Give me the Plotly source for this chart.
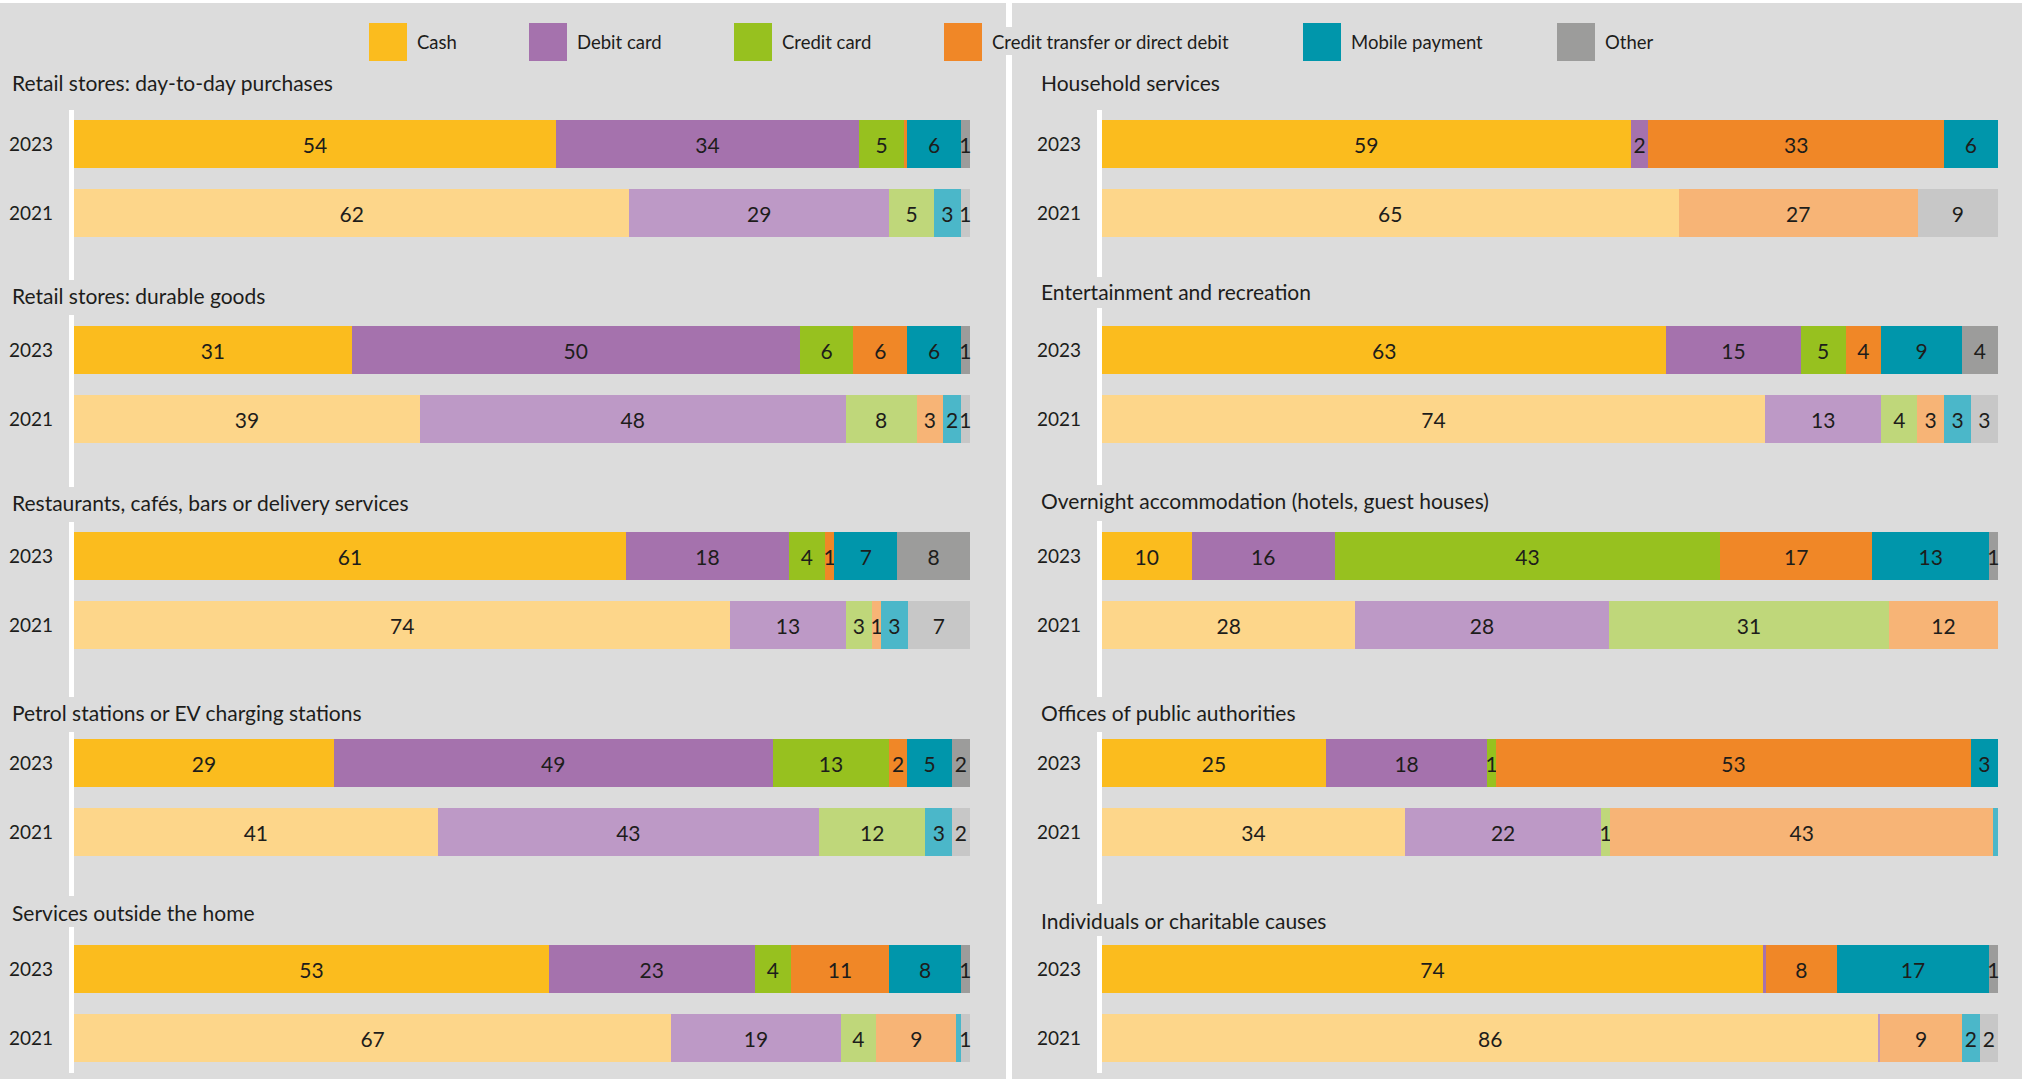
import plotly.graph_objects as go

W, H = 2028, 1079
FONT = "Lato"
TXT = "#1d1d1b"

titles = [
    "Retail stores: day-to-day purchases",
    "Retail stores: durable goods",
    "Restaurants, cafés, bars or delivery services",
    "Petrol stations or EV charging stations",
    "Services outside the home",
    "Household services",
    "Entertainment and recreation",
    "Overnight accommodation (hotels, guest houses)",
    "Offices of public authorities",
    "Individuals or charitable causes",
]
years = ["2023", "2021"]
categories = ["Cash", "Debit card", "Credit card",
              "Credit transfer or direct debit", "Mobile payment", "Other"]

cash_2023 = [54, 31, 61, 29, 53, 59, 63, 10, 25, 74]
cash_2021 = [62, 39, 74, 41, 67, 65, 74, 28, 34, 86]
debit_2023 = [34, 50, 18, 49, 23, 2, 15, 16, 18, 0.3]
debit_2021 = [29, 48, 13, 43, 19, 0, 13, 28, 22, 0.2]
credit_2023 = [5, 6, 4, 13, 4, 0, 5, 43, 1, 0]
credit_2021 = [5, 8, 3, 12, 4, 0, 4, 31, 1, 0]
transfer_2023 = [0.4, 6, 1, 2, 11, 33, 4, 17, 53, 8]
transfer_2021 = [0, 3, 1, 0, 9, 27, 3, 12, 43, 9]
mobile_2023 = [6, 6, 7, 5, 8, 6, 9, 13, 3, 17]
mobile_2021 = [3, 2, 3, 3, 0.5, 0, 3, 0, 0.5, 2]
other_2023 = [1, 1, 8, 2, 1, 0, 4, 1, 0, 1]
other_2021 = [1, 1, 7, 2, 1, 9, 3, 0, 0, 2]

series_2023 = [cash_2023, debit_2023, credit_2023, transfer_2023, mobile_2023, other_2023]
series_2021 = [cash_2021, debit_2021, credit_2021, transfer_2021, mobile_2021, other_2021]

colors_2023 = ["#FBBC1E", "#A572AD", "#97C11F", "#F08727", "#0096AB", "#9C9C9B"]
colors_2021 = ["#FDD68A", "#BD99C6", "#BFD77A", "#F7B476", "#4BB7C9", "#C7C7C7"]


def fx(p):
    return p / W


def fy(p):
    return 1 - p / H


def lab(v):
    return str(int(round(v))) if v >= 0.75 else ""


# pixel layout
bar_tops = [120, 326, 532, 739, 945]
line_left = [(110, 280), (315, 487), (522, 697), (732, 896), (927, 1073)]
line_right = [(110, 277), (308, 485), (521, 697), (732, 904), (936, 1073)]
title_y_left = [83, 295, 502, 712, 912]
title_y_right = [83, 291, 500, 712, 920]
BAR_H, PITCH = 48, 69
bars_x = [(74, 970), (1102, 1998)]
axis_line_x = [(69, 74), (1097, 1102)]
title_x = [10, 1039]

fig = go.Figure()
shapes = []
annotations = []
layout_axes = {}

for i in range(10):
    side = 0 if i < 5 else 1
    row = i % 5
    s = "" if i == 0 else str(i + 1)
    T = bar_tops[row]
    top, bot = (line_left if side == 0 else line_right)[row]
    c23 = T + BAR_H / 2

    def val(ypx):
        return 1 - (ypx - c23) / PITCH

    for k in range(6):
        v23 = series_2023[k][i]
        v21 = series_2021[k][i]
        fig.add_trace(go.Bar(
            x=[v23, v21], y=years, orientation="h",
            name=categories[k], showlegend=False,
            marker=dict(color=[colors_2023[k], colors_2021[k]], line=dict(width=0)),
            text=[lab(v23), lab(v21)],
            textposition="inside", insidetextanchor="middle", textangle=0,
            textfont=dict(family=FONT, size=21, color=TXT),
            insidetextfont=dict(family=FONT, size=21, color=TXT),
            cliponaxis=False,
            xaxis="x" + s, yaxis="y" + s,
            hovertemplate=categories[k] + " %{y}: %{text}<extra></extra>",
        ))
    x0, x1 = bars_x[side]
    layout_axes["xaxis" + s] = dict(
        domain=[fx(x0), fx(x1)], range=[0, 100.02], visible=False,
        anchor="y" + s, fixedrange=True)
    layout_axes["yaxis" + s] = dict(
        domain=[fy(bot), fy(top)], range=[val(bot), val(top)],
        type="category", categoryorder="array", categoryarray=["2021", "2023"],
        anchor="x" + s, showgrid=False, zeroline=False, showline=False,
        ticks="", ticklabelstandoff=20,
        tickfont=dict(family=FONT, size=19, color=TXT), fixedrange=True)
    lx0, lx1 = axis_line_x[side]
    shapes.append(dict(type="rect", xref="paper", yref="paper",
                       x0=fx(lx0), x1=fx(lx1), y0=fy(bot), y1=fy(top),
                       fillcolor="white", line=dict(width=0)))
    annotations.append(dict(
        text=titles[i], xref="paper", yref="paper",
        x=fx(title_x[side]), y=fy((title_y_left if side == 0 else title_y_right)[row]),
        xanchor="left", yanchor="middle", showarrow=False,
        font=dict(family=FONT, size=21, color=TXT)))

# frame: top border, right border, central divider (interrupted by legend)
for (x0, x1, y0, y1) in [(0, W, 0, 3), (2022, W, 0, H), (1006, 1012, 0, 27), (1006, 1012, 55, H)]:
    shapes.append(dict(type="rect", xref="paper", yref="paper",
                       x0=fx(x0), x1=fx(x1), y0=fy(y1), y1=fy(y0),
                       fillcolor="white", line=dict(width=0), layer="below"))

# legend
legend_x = [369, 529, 734, 944, 1303, 1557]
for k in range(6):
    x0 = legend_x[k]
    shapes.append(dict(type="rect", xref="paper", yref="paper",
                       x0=fx(x0), x1=fx(x0 + 38), y0=fy(61), y1=fy(23),
                       fillcolor=colors_2023[k], line=dict(width=0)))
    annotations.append(dict(
        text=categories[k], xref="paper", yref="paper",
        x=fx(x0 + 46), y=fy(42), xanchor="left", yanchor="middle",
        showarrow=False, font=dict(family=FONT, size=18.5, color=TXT)))

fig.update_layout(
    width=W, height=H, margin=dict(l=0, r=0, t=0, b=0),
    paper_bgcolor="#DCDCDC", plot_bgcolor="rgba(0,0,0,0)",
    template="none",
    barmode="stack", barnorm="percent", bargap=1 - BAR_H / PITCH,
    uniformtext=dict(mode="show", minsize=21),
    font=dict(family=FONT, color=TXT),
    shapes=shapes, annotations=annotations, showlegend=False,
    **layout_axes,
)

fig.write_html("out.html", config={"displayModeBar": False},
               post_script="document.body.style.margin='0px';")
